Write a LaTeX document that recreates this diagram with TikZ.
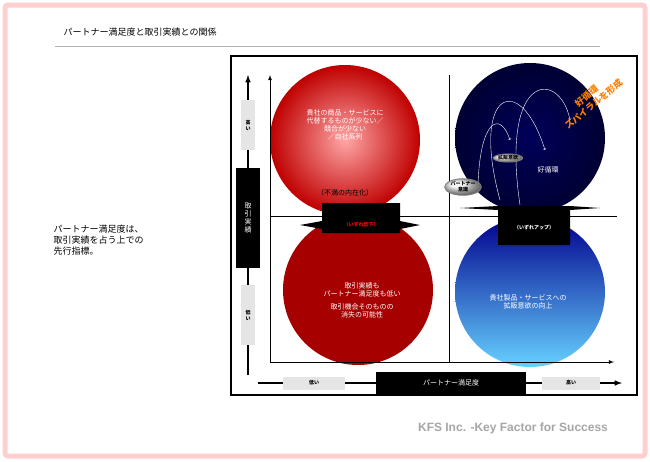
\documentclass[tikz,border=0pt]{standalone}
\usepackage{fontspec}
\setmainfont{Noto Sans CJK JP}
\newfontfamily\latinfont{Liberation Sans}
\usetikzlibrary{positioning,shapes.geometric}
\tikzstyle{graybox}=[fill=gray!20, font=\tiny\bfseries, inner sep=1pt]
\tikzstyle{blackbox}=[fill=black, text=white, font=\scriptsize]
\tikzstyle{bubble}=[circle, minimum size=150pt, inner sep=0pt]
\tikzstyle{pill}=[ellipse, draw=gray, ball color=gray!15, font=\tiny\bfseries, inner sep=0.5pt, align=center]
\begin{document}
\begin{tikzpicture}[x=1pt,y=-1pt,thick]
  \useasboundingbox (0,0) rectangle (650,461);
  \draw[pink!70!red!40, line width=5pt, rounded corners=3pt, fill=white] (5,5) rectangle (645,456);
  % title
  \node[font=\small, anchor=west] (title) at (60,32) {パートナー満足度と取引実績との関係};
  \draw[gray!60, line width=1pt] (55,46) -- (600,46);
  \node[font=\small, align=left, anchor=west] (lead) at (50,240) {パートナー満足度は、\\取引実績を占う上での\\先行指標。};
  % frame
  \draw[line width=1.5pt] (231,56) rectangle (637,395);
  % bubbles
  \node[bubble, inner color=red!35, outer color=red!75!black] (tl) at (345,140) {};
  \node[bubble, fill=red!65!black] (bl) at (358,290) {};
  \node[bubble, inner color=blue!35!black, outer color=blue!20!black] (tr) at (530,138) {};
  \node[bubble, top color=blue!55!black, bottom color=blue!30!cyan!60] (br) at (530,292) {};
  % inner axes
  \draw[-latex] (270,362) -- (270,75);
  \draw[-latex] (270,362) -- (614,362);
  \draw[thin] (449,75) -- (449,362);
  \draw[thin] (270,216) -- (617,216);
  % tabs
  \fill (300,225) -- (322,221) -- (322,203) -- (400,203) -- (400,221) -- (420,225) -- (400,229) -- (400,233) -- (322,233) -- (322,229) -- cycle;
  \node[text=red, font=\tiny\bfseries] (down) at (361,225) {（いずれ低下）};
  \fill (460,208) -- (498,206) -- (570,206) -- (600,208) -- (570,210) -- (570,245) -- (498,245) -- (498,210) -- cycle;
  \node[text=white, font=\tiny\bfseries] (up) at (534,228) {（いずれアップ）};
  % bubble texts
  \node[text=white, font=\scriptsize, align=center] (tltext) at (345,125) {貴社の商品・サービスに\\代替するものが少ない／\\競合が少ない\\／自社系列};
  \node[font=\scriptsize] (tlnote) at (345,193) {（不満の内在化）};
  \node[text=white, font=\scriptsize, align=center] (bltext) at (362,300) {取引実績も\\パートナー満足度も低い\\[5pt]取引機会そのものの\\消失の可能性};
  \node[text=white, font=\scriptsize, align=center] (brtext) at (528,302) {貴社製品・サービスへの\\拡販意欲の向上};
  % spiral
  \draw[white, thin, ->] (478,185) .. controls (480,120) and (500,110) .. (510,140);
  \draw[white, thin, ->] (500,200) .. controls (470,90) and (520,70) .. (545,150);
  \draw[white, thin, ->] (520,205) .. controls (500,70) and (560,70) .. (570,120);
  \node[pill] (drive) at (508,158) {拡販意欲};
  \node[pill] (aware) at (463,187) {パートナー\\意識};
  \node[text=white, font=\scriptsize] (cycle) at (548,170) {好循環};
  \node[rotate=40, text=orange, font=\small\bfseries, align=center] (spiral) at (590,100) {好循環\\スパイラルを形成};
  % outer y axis
  \draw[-latex, line width=1.5pt] (248,375) -- (248,75);
  \node[graybox, minimum width=14pt, minimum height=50pt, align=center] (yhigh) at (248,125) {高\\い};
  \node[blackbox, minimum width=24pt, minimum height=100pt, align=center] (ylabel) at (248,218) {取\\引\\実\\績};
  \node[graybox, minimum width=14pt, minimum height=60pt, align=center] (ylow) at (248,315) {低\\い};
  % outer x axis
  \draw[-latex, line width=1.5pt] (258,383) -- (622,383);
  \node[graybox, minimum width=62pt, minimum height=13pt] (xlow) at (314,383) {低い};
  \node[blackbox, minimum width=150pt, minimum height=23pt] (xlabel) at (451,383) {パートナー満足度};
  \node[graybox, minimum width=58pt, minimum height=13pt] (xhigh) at (571,383) {高い};
  % footer
  \node[text=gray!70, font=\latinfont\bfseries\large] (kfs) at (513,428) {KFS Inc. -Key Factor for Success};
\end{tikzpicture}
\end{document}
